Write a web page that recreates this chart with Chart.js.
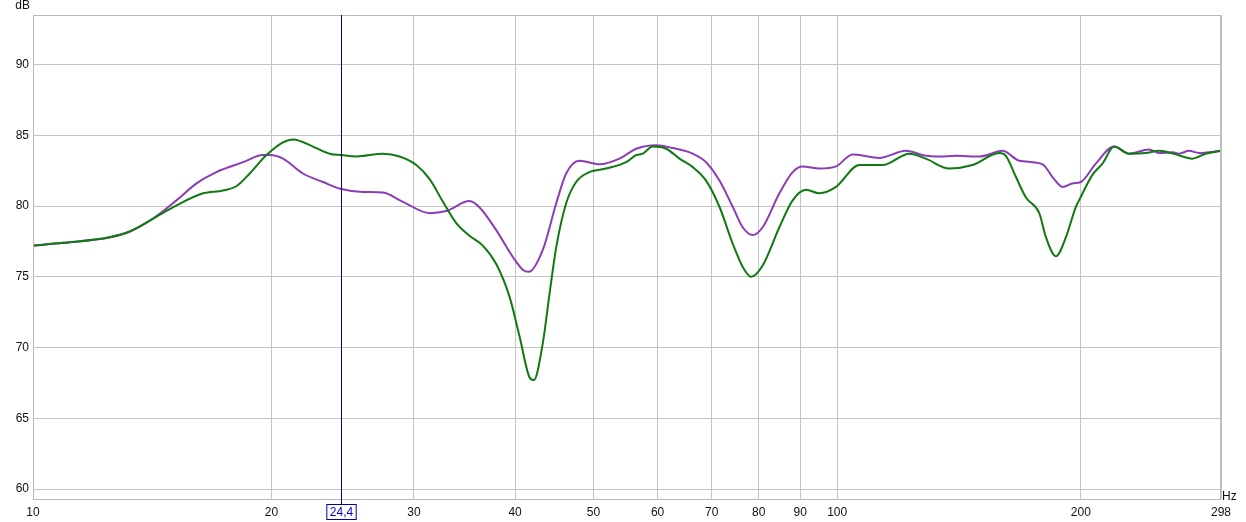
<!DOCTYPE html>
<html>
<head>
<meta charset="utf-8">
<script src="https://cdn.jsdelivr.net/npm/chart.js@4.4.1/dist/chart.umd.min.js"></script>
<style>
  body { margin: 0; background: #fff; }
  #wrap { width: 1246px; height: 522px; }
</style>
</head>
<body>
<div id="wrap"><canvas id="rta" width="1246" height="522"></canvas></div>
<script>
// axis ranges / ticks
const xMin = 10.15;
const xMax = 298;
const yMin = 59.3;
const yMax = 93.5;
const xTickValues = [10.15, 20, 30, 40, 50, 60, 70, 80, 90, 100, 200, 298];
const xTickLabels = ['10', '20', '30', '40', '50', '60', '70', '80', '90', '100', '200', '298'];
const yTickValues = [60, 65, 70, 75, 80, 85, 90];
const cursorHz = 24.4;
const cursorLabel = '24,4';

// green trace
const greenFreq = [10.15, 11.06, 12.63, 13.37, 14.27, 15.27, 16.47, 17.43, 18.1, 18.8, 19.72, 20.67, 21.27, 22.51, 23.61, 24.41,
  25.47, 27.47, 28.8, 30.2, 31.37, 32.58, 33.84, 35.14, 36.49, 37.91, 39.37, 40.51, 41.68, 42.19, 43.28, 44.12, 44.97,
  46.26, 47.59, 49.43, 51.84, 54.87, 56.45, 57.52, 59.18, 61.48, 63.85, 66.31, 68.87, 71.54, 74.29, 76.43, 78.28, 80.9,
  84.84, 88.11, 91.52, 95.05, 99.66, 106.5, 113.8, 122.8, 128.7, 137.5, 147, 158.6, 161.6, 166.3, 171.1, 177.7, 181.1,
  186.3, 191.7, 197.2, 199, 206.7, 212.7, 219.9, 229.4, 240.6, 249.9, 262, 274.7, 285.3, 298];
const greenDb = [77.2, 77.4, 77.8, 78.2, 79.1, 80.05, 80.9, 81.1, 81.4, 82.3, 83.6, 84.5, 84.7, 84.2, 83.7, 83.6,
  83.5, 83.7, 83.5, 82.9, 81.9, 80.3, 78.8, 77.9, 77.2, 75.9, 73.6, 70.8, 67.9, 67.7, 70.3, 73.8, 77.1,
  80.2, 81.7, 82.4, 82.65, 83.1, 83.6, 83.7, 84.2, 84.05, 83.35, 82.75, 81.8, 79.95, 77.35, 75.7, 75.0, 75.8,
  78.5, 80.4, 81.15, 80.9, 81.35, 82.9, 82.9, 83.7, 83.35, 82.65, 82.9, 83.75, 83.55, 82.05, 80.6, 79.5, 77.8,
  76.45, 77.8, 79.95, 80.4, 82.2, 83.0, 84.2, 83.7, 83.75, 83.9, 83.65, 83.35, 83.7, 83.9];

// purple trace
const purpleFreq = [10.15, 11.06, 12.63, 13.37, 14.27, 15.27, 16.16, 17.1, 18.45, 19.53, 19.9, 20.67, 21.88, 23.16, 24.41,
  25.95, 27.47, 29.07, 31.37, 32.89, 35.14, 36.16, 37.91, 39.75, 40.89, 41.59, 43.28, 44.97, 46.26, 48.04, 50.85,
  53.83, 56.45, 59.75, 62.64, 66.31, 68.87, 71.54, 74.29, 76.43, 78.64, 80.9, 84.84, 88.11, 90.64, 95.05, 99.66,
  104.5, 106.5, 112.7, 121.6, 128.7, 133.7, 140.2, 149.8, 160.1, 167.9, 179.4, 184.5, 189.9, 195.3, 200, 208.7,
  219.9, 229.4, 242.8, 249.9, 259.5, 264.5, 272.1, 279.9, 298];
const purpleDb = [77.2, 77.4, 77.8, 78.2, 79.1, 80.4, 81.6, 82.4, 83.1, 83.6, 83.6, 83.35, 82.3, 81.7, 81.2,
  81.0, 80.95, 80.3, 79.5, 79.65, 80.35, 79.9, 78.3, 76.4, 75.5, 75.35, 76.9, 80.2, 82.3, 83.2, 82.95,
  83.35, 84.05, 84.3, 84.1, 83.7, 83.1, 81.8, 79.95, 78.5, 77.95, 78.5, 80.9, 82.4, 82.8, 82.65, 82.8,
  83.65, 83.6, 83.4, 83.9, 83.55, 83.5, 83.55, 83.5, 83.9, 83.2, 82.95, 82.05, 81.35, 81.6, 81.7, 83.0,
  84.2, 83.7, 84.0, 83.75, 83.8, 83.7, 83.9, 83.75, 83.9];

const toPoints = (fs, vs) => fs.map((f, i) => ({ x: f, y: vs[i] }));
const labelFont = '12px "Liberation Sans", Arial, sans-serif';

const frameAndCursor = {
  id: 'frameAndCursor',
  afterDatasetsDraw(chart) {
    const { ctx, chartArea: { left, right, top, bottom } } = chart;
    const xs = chart.scales.x;
    ctx.save();
    // plot frame
    ctx.strokeStyle = '#b9b9b9';
    ctx.lineWidth = 1;
    ctx.strokeRect(left + 0.5, top + 0.5, right - left - 1, bottom - top);

    // cursor
    const cx = Math.round(xs.getPixelForValue(cursorHz)) + 0.5;
    ctx.strokeStyle = '#000080';
    ctx.beginPath();
    ctx.moveTo(cx, top);
    ctx.lineTo(cx, bottom + 5);
    ctx.stroke();

    ctx.font = labelFont;
    ctx.textAlign = 'center';
    ctx.textBaseline = 'middle';
    const w = ctx.measureText(cursorLabel).width + 6;
    ctx.fillStyle = '#fff';
    ctx.fillRect(cx - w / 2, bottom + 5, w, 15);
    ctx.strokeStyle = '#0000a0';
    ctx.strokeRect(cx - w / 2, bottom + 5.5, w, 15);
    ctx.fillStyle = '#0000c0';
    ctx.fillText(cursorLabel, cx, bottom + 13.5);

    // unit labels
    ctx.fillStyle = '#111';
    ctx.textAlign = 'left';
    ctx.fillText('Hz', right + 1, bottom - 2);
    ctx.textAlign = 'right';
    ctx.fillText('dB', left - 3, 6);
    ctx.restore();
  }
};

new Chart(document.getElementById('rta'), {
  type: 'line',
  data: {
    datasets: [
      {
        label: 'green',
        data: toPoints(greenFreq, greenDb),
        borderColor: '#0f7a0f',
        borderWidth: 2,
        pointRadius: 0,
        cubicInterpolationMode: 'monotone',
        fill: false,
      },
      {
        label: 'purple',
        data: toPoints(purpleFreq, purpleDb),
        borderColor: '#8b3cb7',
        borderWidth: 2,
        pointRadius: 0,
        cubicInterpolationMode: 'monotone',
        fill: false,
      },
    ],
  },
  options: {
    responsive: false,
    animation: false,
    layout: { padding: { top: 15, right: 25, left: 0, bottom: 0 } },
    plugins: {
      legend: { display: false },
      tooltip: { enabled: false },
    },
    scales: {
      x: {
        type: 'logarithmic',
        min: xMin,
        max: xMax,
        afterBuildTicks: (scale) => {
          scale.ticks = xTickValues.map((v) => ({ value: v }));
        },
        afterFit: (scale) => { scale.height = 23; },
        grid: { color: '#c4c4c4', drawTicks: false },
        border: { display: false },
        ticks: {
          autoSkip: false,
          maxRotation: 0,
          padding: 6,
          color: '#111',
          font: { family: '"Liberation Sans", Arial, sans-serif', size: 12 },
          callback: (v, i) => xTickLabels[i],
        },
      },
      y: {
        min: yMin,
        max: yMax,
        afterBuildTicks: (scale) => {
          scale.ticks = yTickValues.map((v) => ({ value: v }));
        },
        afterFit: (scale) => { scale.width = 33; },
        grid: { color: '#c4c4c4', drawTicks: false },
        border: { display: false },
        ticks: {
          padding: 4,
          color: '#111',
          font: { family: '"Liberation Sans", Arial, sans-serif', size: 12 },
        },
      },
    },
  },
  plugins: [frameAndCursor],
});
</script>
</body>
</html>
